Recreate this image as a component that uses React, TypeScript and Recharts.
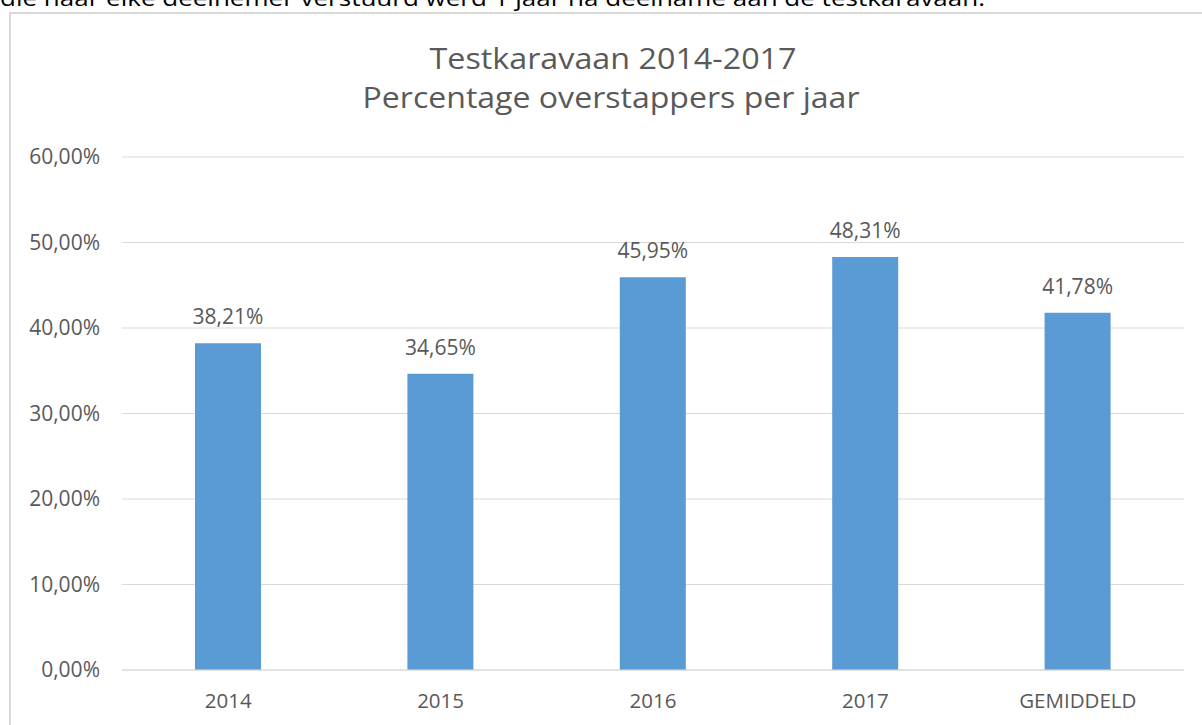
import React from 'react';
import { BarChart, Bar, XAxis, YAxis, CartesianGrid, LabelList } from 'recharts';

const categories = ['2014', '2015', '2016', '2017', 'GEMIDDELD'];
const values = [38.21, 34.65, 45.95, 48.31, 41.78];
const yTicks = [0, 10, 20, 30, 40, 50, 60];
const titleLines = ['Testkaravaan 2014-2017', 'Percentage overstappers per jaar'];
const introText = 'die naar elke deelnemer verstuurd werd 1 jaar na deelname aan de testkaravaan.';

const data = categories.map((c, i) => ({ name: c, value: values[i] }));
const fmt = (v: number) => v.toFixed(2).replace('.', ',') + '%';
const FONT = '"Open Sans", "Noto Sans", sans-serif';
const GREY = '#595959';

export default function App() {
  return (
    <div style={{ position: 'absolute', left: 0, top: 0, width: 1202, height: 725, overflow: 'hidden', background: '#fff' }}>
      <svg style={{ position: 'absolute', left: 0, top: 0 }} width={1202} height={12}>
        <text x={0} y={6} fontFamily={FONT} fontSize={22} fill="#000" textLength={985} lengthAdjust="spacingAndGlyphs">{introText}</text>
      </svg>
      <div style={{ position: 'absolute', left: 9, top: 12, width: 1200, height: 720, border: '2px solid #d9d9d9', boxSizing: 'border-box' }} />
      <div style={{ position: 'absolute', left: 0, top: 0 }}>
        <BarChart width={1202} height={725} data={data} margin={{ top: 157, right: 18, bottom: 0, left: 0 }}>
          <CartesianGrid vertical={false} stroke="#d9d9d9" strokeWidth={1} />
          <XAxis
            dataKey="name"
            height={55}
            axisLine={{ stroke: '#d9d9d9' }}
            tickLine={false}
            tickSize={0}
            tickMargin={23}
            tick={{ fill: GREY, fontSize: 20.5, fontFamily: FONT }}
            interval={0}
          />
          <YAxis
            width={122}
            domain={[0, 60]}
            ticks={yTicks}
            tickFormatter={fmt}
            axisLine={false}
            tickLine={false}
            tickSize={0}
            tickMargin={22}
            tick={{ fill: GREY, fontSize: 21, fontFamily: FONT }}
          />
          <Bar dataKey="value" fill="#5b9bd5" barSize={66} isAnimationActive={false}>
            <LabelList dataKey="value" position="top" offset={19} formatter={(v: any) => fmt(Number(v))} fill={GREY} fontSize={21} fontFamily={FONT} />
          </Bar>
        </BarChart>
      </div>
      <svg style={{ position: 'absolute', left: 0, top: 0, pointerEvents: 'none' }} width={1202} height={130}>
        <text x={613} y={69} textAnchor="middle" fontFamily={FONT} fontSize={29} fill={GREY} textLength={367} lengthAdjust="spacingAndGlyphs">{titleLines[0]}</text>
        <text x={611} y={108} textAnchor="middle" fontFamily={FONT} fontSize={29} fill={GREY} textLength={497} lengthAdjust="spacingAndGlyphs">{titleLines[1]}</text>
      </svg>
    </div>
  );
}
